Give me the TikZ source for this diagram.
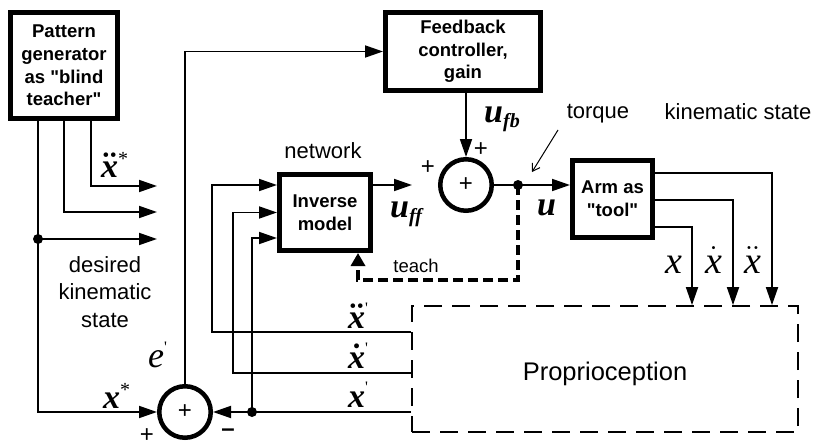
\RequirePackage{fix-cm}
\documentclass[tikz,border=0pt]{standalone}
\usepackage[no-math]{fontspec}
\setmainfont{Liberation Sans}
\newfontfamily\tms{Liberation Serif}
\font\primefont="Liberation Serif" at 16pt
\font\qfont="Liberation Sans/B" at 18.5pt
\usetikzlibrary{arrows.meta}
\newcommand\qq{{\qfont"}}
\newcommand\BIx{{\tms\bfseries\itshape x}}
\newcommand\bfdd{{\boldmath$\ddot{\mbox{\BIx}}$}}
\newcommand\bfd{{\boldmath$\dot{\mbox{\BIx}}$}}
\newcommand\rgx{{\tms\itshape x}}
\newcommand\rgdd{$\ddot{\mbox{\rgx}}$}
\newcommand\rgd{$\dot{\mbox{\rgx}}$}
\newcommand\sstar{\raisebox{12pt}{\fontsize{20}{20}\selectfont\tms *}}
\newcommand\prm{\raisebox{15pt}{\primefont '}}
\newcommand\subs[1]{\raisebox{-5pt}{\fontsize{20}{20}\selectfont\tms\bfseries\itshape #1}}
\begin{document}
\begin{tikzpicture}[x=1pt,y=-1pt,
  box/.style={draw, line width=5pt, inner sep=0pt, align=center,
    font=\fontsize{18.5}{22.7}\selectfont\bfseries},
  sumc/.style={circle, draw, line width=4.5pt, minimum size=51.5pt, inner sep=0pt,
    font=\fontsize{24}{24}\selectfont},
  conn/.style={line width=1.8pt},
  arr/.style={conn, -{Triangle[length=18pt,width=12pt]}},
  lbl/.style={font=\fontsize{22}{27.5}\selectfont, inner sep=0pt, align=center},
  mlb/.style={font=\fontsize{34}{34}\selectfont, inner sep=0pt, anchor=base west},
  rlb/.style={font=\fontsize{38}{38}\selectfont, inner sep=0pt, anchor=base west},
  sgn/.style={font=\fontsize{24}{24}\selectfont, inner sep=0pt},
  teachline/.style={line width=3.3pt, dash pattern=on 10pt off 5pt,
    -{Triangle[length=13pt,width=14pt]}}
]
\useasboundingbox (0,0) rectangle (816,441);

% blocks
\node[box, minimum width=107pt, minimum height=106pt] (pg) at (64,65.5)
  {Pattern\\generator\\as \qq blind\\teacher\qq};
\node[box, minimum width=155pt, minimum height=78pt] (fb) at (463,51.5)
  {Feedback\\controller,\\gain};
\node[box, minimum width=91pt, minimum height=76pt] (inv) at (325,212.5)
  {Inverse\\model};
\node[box, minimum width=80pt, minimum height=77pt] (arm) at (612.5,199)
  {Arm as\\\qq tool\qq};
\node[draw, line width=1.8pt, dash pattern=on 18pt off 10pt, minimum width=386pt,
  minimum height=126pt, inner sep=0pt, text height=27pt, text depth=5pt,
  font=\fontsize{25.5}{25.5}\selectfont] (prop) at (605,369) {Proprioception};
\node[sumc] (sumT) at (466,185) {+};
\node[sumc] (sumB) at (185,412) {+};

% coordinates
\coordinate (dA) at (38,239);
\coordinate (endA) at (157,239);
\coordinate (xB) at (64,0);
\coordinate (endB) at (157,212);
\coordinate (xC) at (91,0);
\coordinate (endC) at (157,186);
\coordinate (ffend) at (412,185);
\coordinate (tq) at (518,185);
\coordinate (tb) at (358,280);
\coordinate (ta) at (558,130);
\coordinate (tt) at (532,172);
\coordinate (o1) at (772,173);
\coordinate (o2) at (733,200);
\coordinate (o3) at (692,227);
\coordinate (f1) at (212,332);
\coordinate (f2) at (233,373);
\coordinate (d3) at (252,412);
\coordinate (i1) at ([yshift=27.5pt]inv.west);
\coordinate (i2) at (inv.west);
\coordinate (i3) at ([yshift=-25.5pt]inv.west);

% pattern generator outputs
\draw[arr] (pg.south -| dA) |- (sumB.west);
\draw[arr] (dA) -- (endA);
\fill (dA) circle (5pt);
\draw[arr] (pg.south -| xB) |- (endB);
\draw[arr] (pg.south -| xC) |- (endC);

% feedback controller
\draw[arr] (sumB.north) |- (fb.west);
\draw[arr] (fb.south -| sumT.north) -- (sumT.north);
\draw[arr] (inv.east |- ffend) -- (ffend);
\draw[arr] (sumT.east) -- (arm.west |- sumT.east);
\fill (tq) circle (5pt);
\draw[teachline] (tq) |- (tb) -- (inv.south -| tb);
\draw[line width=1pt, -{Straight Barb[length=7pt,width=9pt]}] (ta) -- (tt);

% arm outputs
\draw[arr] (arm.east |- o1) -| (prop.north -| o1);
\draw[arr] (arm.east |- o2) -| (prop.north -| o2);
\draw[arr] (arm.east |- o3) -| (prop.north -| o3);

% proprioception outputs
\draw[arr] (prop.west |- f1) -- (f1) |- (i1);
\draw[arr] (prop.west |- f2) -- (f2) |- (i2);
\draw[arr] (prop.west |- sumB) -- (sumB.east);
\draw[arr] (d3) |- (i3);
\fill (d3) circle (5pt);

% labels
\node[mlb] (lddxs) at (101,177) {\bfdd\sstar};
\node[mlb] (lxs) at (103,408) {\BIx\sstar};
\node[mlb] (lddxp) at (348,328) {\bfdd\prm};
\node[mlb] (ldxp) at (348,368) {\bfd\prm};
\node[mlb] (lxp) at (348,407) {\BIx\prm};
\node[font=\fontsize{36}{36}\selectfont, inner sep=0pt, anchor=base west] (le) at (148,367) {{\tms\itshape e}\prm};
\node[mlb] (luff) at (390,217) {{\tms\bfseries\itshape u}\subs{ff}};
\node[mlb] (lufb) at (484,123) {{\tms\bfseries\itshape u}\subs{fb}};
\node[mlb] (lu) at (537,215) {{\tms\bfseries\itshape u}};
\node[rlb] (lx) at (665,273) {\rgx};
\node[rlb] (ldx) at (705,273) {\rgd};
\node[rlb] (lddx) at (744,273) {\rgdd};

\node[lbl, anchor=base] (lnet) at (323,158) {network};
\node[lbl, anchor=base] (ltorque) at (598,118) {torque};
\node[lbl, anchor=base] (lkin) at (738,120) {kinematic state};
\node[lbl] (ldes) at (105,292) {desired\\kinematic\\state};
\node[font=\fontsize{18.5}{18.5}\selectfont, inner sep=0pt, anchor=base] (lteach) at (416,272) {teach};

\node[sgn] (p1) at (428,168) {+};
\node[sgn] (p2) at (481,150) {+};
\node[sgn] (p3) at (147,436) {+};
\node[sgn] (m1) at (228,433) {\bfseries –};
\end{tikzpicture}
\end{document}
